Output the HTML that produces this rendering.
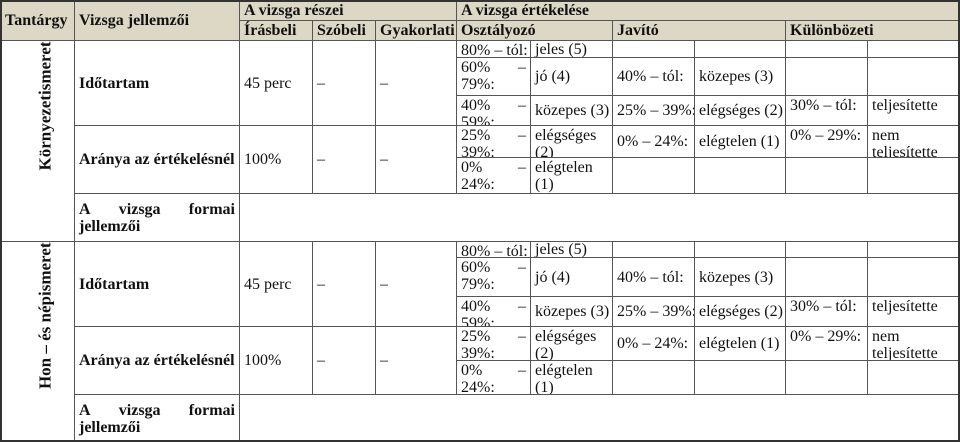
<!DOCTYPE html>
<html><head><meta charset="utf-8">
<style>
html,body{margin:0;padding:0;background:#fff;}
#t{position:relative;width:960px;height:442px;overflow:hidden;font-family:"Liberation Serif",serif;font-size:16px;color:#111;}
.c{position:absolute;box-sizing:border-box;border:1px solid #555;display:flex;align-items:center;padding:0 4px;line-height:17px;overflow:hidden;white-space:nowrap;}
.c.top{align-items:flex-start;padding-top:1px;}
.c.h{background:#ddd8c6;font-weight:bold;}
.c.b{font-weight:bold;}
.two{display:block;width:100%;}
.two .l1{display:flex;justify-content:space-between;}
.vert{position:absolute;font-weight:bold;white-space:nowrap;transform:rotate(-90deg);transform-origin:center;font-size:17px;line-height:20px;text-align:right;}
.just{display:block;width:100%;white-space:normal;}
.just .jl{display:flex;justify-content:space-between;}
#frame{position:absolute;left:0;top:0;width:960px;height:442px;box-sizing:border-box;border:2px solid #333;pointer-events:none;}
</style></head>
<body>
<div id="t"></div>
<script>
const X = [0, 74, 239, 312, 375, 456, 530, 612, 694, 785, 867, 959];
const sections = [
  {name:'Környezetismeret', y:[40,57,95,125,157,193,241]},
  {name:'Hon – és népismeret', y:[241,257,296,326,360,394,442]}
];
const oszt = [['80% – tól:','jeles (5)',false],['60%|–|79%:','jó (4)',false],['40%|–|59%:','közepes (3)',false],['25%|–|39%:','elégséges<br>(2)',true],['0%|–|24%:','elégtelen<br>(1)',true]];
const jav = [['',''],['40% – tól:','közepes (3)'],['25% – 39%:','elégséges (2)'],['0% – 24%:','elégtelen (1)'],['','']];
const kul = [['',''],['',''],['30% – tól:','teljesítette'],['0% – 29%:','nem<br>teljesítette'],['','']];
const root = document.getElementById('t');
function cell(x1,x2,y1,y2,html,name,cls){
  const el=document.createElement('div');
  el.className='c '+(cls||'');
  el.style.left=x1+'px';el.style.top=y1+'px';
  el.style.width=(x2-x1+1)+'px';el.style.height=(y2-y1+1)+'px';
  el.innerHTML=html;
  
  
  root.appendChild(el);
  return el;
}
function rng(s){
  if(s.indexOf('|')<0) return s;
  const p=s.split('|');
  return '<div class="two"><div class="l1"><span>'+p[0]+'</span><span>'+p[1]+'</span></div><div>'+p[2]+'</div></div>';
}
cell(X[0],X[1],0,40,'Tantárgy','header-subject','h');
cell(X[1],X[2],0,40,'Vizsga jellemzői','header-exam-features','h');
cell(X[2],X[5],0,20,'A vizsga részei','header-exam-parts','h');
cell(X[5],X[11],0,20,'A vizsga értékelése','header-exam-evaluation','h');
cell(X[2],X[3],20,40,'Írásbeli','header-written','h');
cell(X[3],X[4],20,40,'Szóbeli','header-oral','h');
cell(X[4],X[5],20,40,'Gyakorlati','header-practical','h');
cell(X[5],X[7],20,40,'Osztályozó','header-classifying','h');
cell(X[7],X[9],20,40,'Javító','header-corrective','h');
cell(X[9],X[11],20,40,'Különbözeti','header-differential','h');
sections.forEach((s,si)=>{
  const y=s.y;
  const sub=cell(X[0],X[1],y[0],y[6],'','subject-cell-'+si,'');
  const v=document.createElement('div');
  v.className='vert';v.textContent=s.name;
  
  
  sub.appendChild(v);
  const h=y[6]-y[0]-4;
  v.style.width=h+'px';v.style.left=(44-h/2)+'px';v.style.top=(h/2-10)+'px';
  cell(X[1],X[2],y[0],y[3],'Időtartam','duration-label','b');
  cell(X[1],X[2],y[3],y[5],'Aránya az értékelésnél','weight-label','b');
  cell(X[1],X[2],y[5],y[6],'<div class="just"><div class="jl"><span>A</span><span>vizsga</span><span>formai</span></div><div>jellemzői</div></div>','formal-features-label','b');
  cell(X[2],X[3],y[0],y[3],'45 perc','written-duration','');
  cell(X[3],X[4],y[0],y[3],'–','oral-duration','');
  cell(X[4],X[5],y[0],y[3],'–','practical-duration','');
  cell(X[2],X[3],y[3],y[5],'100%','written-weight','');
  cell(X[3],X[4],y[3],y[5],'–','oral-weight','');
  cell(X[4],X[5],y[3],y[5],'–','practical-weight','');
  cell(X[2],X[11],y[5],y[6],'','formal-features-value','');
  for(let r=0;r<5;r++){
    cell(X[5],X[6],y[r],y[r+1],rng(oszt[r][0]),'classifying-range','top');
    cell(X[6],X[7],y[r],y[r+1],oszt[r][1],'classifying-grade',oszt[r][2]?'top':'');
    cell(X[7],X[8],y[r],y[r+1],jav[r][0],'corrective-range','');
    cell(X[8],X[9],y[r],y[r+1],jav[r][1],'corrective-grade','');
    cell(X[9],X[10],y[r],y[r+1],kul[r][0],'differential-range','top');
    cell(X[10],X[11],y[r],y[r+1],kul[r][1],'differential-result','top');
  }
});
const f=document.createElement('div');f.id='frame';


root.appendChild(f);
</script>
</body></html>
